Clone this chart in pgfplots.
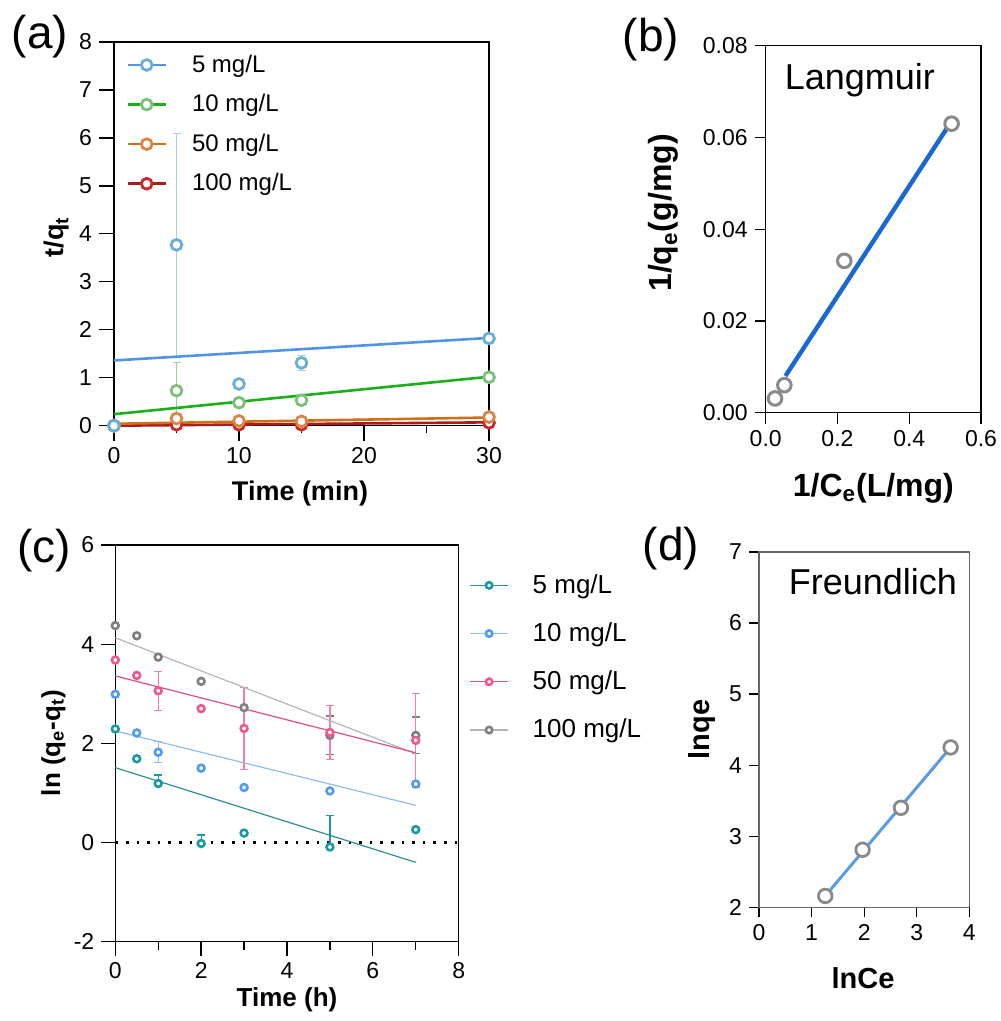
\documentclass[border=0pt]{standalone}
\usepackage{fontspec}
\setmainfont{Liberation Sans}
\usepackage{pgfplots}
\pgfplotsset{compat=1.18}

\definecolor{aBm}{HTML}{6AAED6}\definecolor{aBl}{HTML}{4F94E6}\definecolor{aBe}{HTML}{A9CFE2}
\definecolor{aGm}{HTML}{7CC07C}\definecolor{aGl}{HTML}{19B019}\definecolor{aGe}{HTML}{9FD09F}
\definecolor{aOm}{HTML}{D98548}\definecolor{aOl}{HTML}{CF6F18}
\definecolor{aRm}{HTML}{C62A2A}\definecolor{aRl}{HTML}{A81C1C}
\definecolor{bfit}{HTML}{1A68D2}\definecolor{ptgray}{HTML}{8A8A8A}
\definecolor{dfit}{HTML}{5A9BE6}
\definecolor{cTm}{HTML}{1A9AA0}\definecolor{cTl}{HTML}{2F8F8F}
\definecolor{cBm}{HTML}{4F9BF0}\definecolor{cBl}{HTML}{8FBDF0}
\definecolor{cPm}{HTML}{F0588A}\definecolor{cPl}{HTML}{E0507F}\definecolor{cPe}{HTML}{F080A8}
\definecolor{cGm}{HTML}{7F7F7F}\definecolor{cGl}{HTML}{B5B5B5}

\newcommand{\tickfont}{\fontsize{11.5}{13.8}\selectfont}
\newcommand{\labfont}{\fontsize{13.5}{16}\selectfont\bfseries}

\pgfplotsset{
  panel/.style={
    scale only axis, clip=false,
    axis line style={line width=0.65pt},
    every tick/.style={line width=0.65pt, black},
    tick align=outside,
    xtick pos=lower, ytick pos=lower,
    tick label style={font=\tickfont},
    /pgf/number format/assume math mode=true,
    label style={font=\labfont},
    legend cell align=left,
  },
  legimg/.style={legend image code/.code={%
    \draw[mark repeat=2,mark phase=2,##1] plot coordinates {(0pt,0pt)(9.5pt,0pt)(19pt,0pt)};}},
  % error bars only (markers drawn on top afterwards)
  errs/.style={forget plot, draw=none, mark=none,
    error bars/.cd, y dir=both, y explicit,
    error bar style={draw=#1, line width=0.6pt},
    error mark options={rotate=90, mark size=2pt, draw=#1, line width=0.6pt}},
  errsup/.style={forget plot, draw=none, mark=none,
    error bars/.cd, y dir=plus, y explicit,
    error bar style={draw=#1, line width=0.6pt},
    error mark options={rotate=90, mark size=2pt, draw=#1, line width=0.6pt}},
}

\begin{document}
\begin{tikzpicture}
\useasboundingbox (0,0) rectangle (500pt,510.5pt);

% ---------------- (a) pseudo-second-order
\begin{axis}[panel, at={(57pt,297.65pt)}, anchor=south west,
  width=187.5pt, height=191.85pt,
  xmin=0, xmax=30, ymin=0, ymax=8,
  xtick={0,10,20,30}, minor xtick={5,15,25}, ytick={0,1,...,8},
  major tick length=7.5pt, minor tick length=3.8pt,
  xlabel={Time (min)}, ylabel={t/q\textsubscript{t}},
  xlabel style={at={(axis description cs:0.496,-0.1757)}, anchor=center},
  ylabel style={at={(axis description cs:-0.152,0.492)}, anchor=center},
  legimg,
  legend style={at={(axis description cs:0,1)}, anchor=north west,
    xshift=6pt, yshift=-4.2pt, draw=none, fill=none, inner sep=0pt,
    row sep=5.6pt, column sep=10.5pt, font=\fontsize{12}{14}\selectfont},
]
\addlegendimage{color=aBl, line width=1.3pt, mark=*, mark size=2.7pt, mark options={draw=aBm, fill=white, line width=1.4pt}}
\addlegendentry{5 mg/L}
\addlegendimage{color=aGl, line width=1.3pt, mark=*, mark size=2.7pt, mark options={draw=aGm, fill=white, line width=1.4pt}}
\addlegendentry{10 mg/L}
\addlegendimage{color=aOl, line width=1.3pt, mark=*, mark size=2.7pt, mark options={draw=aOm, fill=white, line width=1.4pt}}
\addlegendentry{50 mg/L}
\addlegendimage{color=aRl, line width=1.3pt, mark=*, mark size=2.7pt, mark options={draw=aRm, fill=white, line width=1.4pt}}
\addlegendentry{100 mg/L}
% error bars
\addplot[errs=aBe] coordinates {(5,3.77) +- (0,2.33) (15,1.31) +- (0,0.16)};
\addplot[errs=aGe] coordinates {(5,0.73) +- (0,0.58)};
% fitted lines
\addplot[forget plot, aRl, line width=1.3pt] coordinates {(0,0.00)(30,0.07)};
\addplot[forget plot, aOl, line width=1.3pt] coordinates {(0,0.04)(30,0.17)};
\addplot[forget plot, aGl, line width=1.3pt] coordinates {(0,0.24)(30,1.02)};
\addplot[forget plot, aBl, line width=1.3pt] coordinates {(0,1.36)(30,1.83)};
% data points
\addplot[forget plot, only marks, mark=*, mark size=2.7pt, mark options={draw=aRm, fill=white, line width=1.4pt}]
  coordinates {(0,0)(5,0.02)(10,0.02)(15,0.02)(30,0.06)};
\addplot[forget plot, only marks, mark=*, mark size=2.7pt, mark options={draw=aOm, fill=white, line width=1.4pt}]
  coordinates {(0,0)(5,0.15)(10,0.10)(15,0.09)(30,0.18)};
\addplot[forget plot, only marks, mark=*, mark size=2.7pt, mark options={draw=aGm, fill=white, line width=1.4pt}]
  coordinates {(0,0)(5,0.73)(10,0.48)(15,0.53)(30,1.01)};
\addplot[forget plot, only marks, mark=*, mark size=2.7pt, mark options={draw=aBm, fill=white, line width=1.4pt}]
  coordinates {(0,0)(5,3.77)(10,0.87)(15,1.31)(30,1.82)};
\end{axis}

% ---------------- (b) Langmuir
\begin{axis}[panel, at={(382.85pt,304.15pt)}, anchor=south west,
  width=107.65pt, height=183.5pt,
  xmin=0, xmax=0.6, ymin=0, ymax=0.08,
  xtick={0,0.2,0.4,0.6}, ytick={0,0.02,0.04,0.06,0.08},
  scaled x ticks=false, scaled y ticks=false,
  xticklabel style={/pgf/number format/.cd, fixed, fixed zerofill, precision=1},
  yticklabel style={/pgf/number format/.cd, fixed, fixed zerofill, precision=2},
  major tick length=5.5pt,
  label style={font=\fontsize{16}{19}\selectfont\bfseries},
  xlabel={1/C\textsubscript{e}(L/mg)}, ylabel={1/q\textsubscript{e}(g/mg)},
  xlabel style={at={(axis description cs:0.5,-0.2055)}, anchor=center},
  ylabel style={at={(axis description cs:-0.474,0.544)}, anchor=center},
]
\addplot[bfit, line width=2.2pt] coordinates {(0.055,0.0080)(0.505,0.0620)};
\addplot[only marks, mark=*, mark size=3.4pt, mark options={draw=ptgray, fill=white, line width=1.5pt}]
  coordinates {(0.026,0.0031)(0.052,0.0060)(0.219,0.0331)(0.518,0.0630)};
\node[font=\fontsize{18}{21}\selectfont] at (axis description cs:0.4375,0.9065) {Langmuir};
\end{axis}

% ---------------- (c) pseudo-first-order
\begin{axis}[panel, at={(57.65pt,39.65pt)}, anchor=south west,
  width=171.7pt, height=198.35pt,
  xmin=0, xmax=8, ymin=-2, ymax=6,
  xtick={0,2,4,6,8}, minor xtick={1,3,5,7}, ytick={-2,0,2,4,6},
  major tick length=7pt, minor tick length=4pt,
  label style={font=\fontsize{13}{16}\selectfont\bfseries},
  xlabel={Time (h)}, ylabel={ln (q\textsubscript{e}-q\textsubscript{t})},
  xlabel style={at={(axis description cs:0.5,-0.147)}, anchor=center},
  ylabel style={at={(axis description cs:-0.1805,0.501)}, anchor=center},
  legimg,
  legend style={at={(axis description cs:1,1)}, anchor=north west,
    xshift=5.2pt, yshift=-12.5pt, draw=none, fill=none, inner sep=0pt,
    row sep=9.2pt, column sep=10pt, font=\fontsize{13}{15.5}\selectfont},
]
\addlegendimage{color=cTl, line width=0.6pt, mark=*, mark size=1.6pt, mark options={draw=cTm, fill=white, line width=1.3pt}}
\addlegendentry{5 mg/L}
\addlegendimage{color=cBl, line width=0.6pt, mark=*, mark size=1.6pt, mark options={draw=cBm, fill=white, line width=1.3pt}}
\addlegendentry{10 mg/L}
\addlegendimage{color=cPl, line width=0.6pt, mark=*, mark size=1.6pt, mark options={draw=cPm, fill=white, line width=1.3pt}}
\addlegendentry{50 mg/L}
\addlegendimage{color=cGl, line width=0.6pt, mark=*, mark size=1.6pt, mark options={draw=cGm, fill=white, line width=1.3pt}}
\addlegendentry{100 mg/L}
% zero line
\addplot[forget plot, black, line width=1.3pt, dash pattern=on 1.3pt off 4pt] coordinates {(0,0)(8,0)};
% error bars
\addplot[errs=cGm] coordinates {(5,2.16) +- (0,0.39) (7,2.16) +- (0,0.37)};
\addplot[errs=cPe] coordinates {(1,3.06) +- (0,0.39) (3,2.30) +- (0,0.82) (5,2.22) +- (0,0.55) (7,2.06) +- (0,0.94)};
\addplot[errs=cBl] coordinates {(1,1.82) +- (0,0.21)};
\addplot[errsup=cTm] coordinates {(1,1.19) +- (0,0.17) (2,-0.02) +- (0,0.17) (5,-0.09) +- (0,0.64)};
% fitted lines
\addplot[forget plot, cGl, line width=0.6pt] coordinates {(0,4.13)(7,1.79)};
\addplot[forget plot, cPl, line width=0.6pt] coordinates {(0,3.36)(7,1.81)};
\addplot[forget plot, cBl, line width=0.6pt] coordinates {(0,2.25)(7,0.75)};
\addplot[forget plot, cTl, line width=0.6pt] coordinates {(0,1.51)(7,-0.40)};
% data points
\addplot[forget plot, only marks, mark=*, mark size=1.7pt, mark options={draw=cGm, fill=white, line width=1.3pt}]
  coordinates {(0,4.375)(0.5,4.17)(1,3.74)(2,3.25)(3,2.72)(5,2.16)(7,2.16)};
\addplot[forget plot, only marks, mark=*, mark size=1.7pt, mark options={draw=cPm, fill=white, line width=1.3pt}]
  coordinates {(0,3.68)(0.5,3.37)(1,3.06)(2,2.70)(3,2.30)(5,2.22)(7,2.06)};
\addplot[forget plot, only marks, mark=*, mark size=1.7pt, mark options={draw=cBm, fill=white, line width=1.3pt}]
  coordinates {(0,2.99)(0.5,2.21)(1,1.82)(2,1.50)(3,1.11)(5,1.04)(7,1.18)};
\addplot[forget plot, only marks, mark=*, mark size=1.7pt, mark options={draw=cTm, fill=white, line width=1.3pt}]
  coordinates {(0,2.29)(0.5,1.69)(1,1.19)(2,-0.02)(3,0.19)(5,-0.09)(7,0.26)};
\end{axis}

% ---------------- (d) Freundlich
\begin{axis}[panel, at={(379.5pt,56.85pt)}, anchor=south west,
  width=105.15pt, height=177.65pt,
  xmin=0, xmax=4, ymin=2, ymax=7,
  xtick={0,1,...,4}, ytick={2,3,...,7},
  major tick length=5pt,
  axis line style={line width=0.65pt, black!60},
  label style={font=\fontsize{14.5}{17}\selectfont\bfseries},
  xlabel={lnCe}, ylabel={lnqe},
  xlabel style={at={(axis description cs:0.4945,-0.199)}, anchor=center},
  ylabel style={at={(axis description cs:-0.273,0.5)}, anchor=center},
]
\addplot[dfit, line width=1.5pt] coordinates {(1.26,2.16)(3.645,4.25)};
\addplot[only marks, mark=*, mark size=3.4pt, mark options={draw=ptgray, fill=white, line width=1.4pt}]
  coordinates {(1.26,2.16)(1.97,2.81)(2.70,3.40)(3.645,4.25)};
\node[font=\fontsize{18}{21}\selectfont] at (axis description cs:0.542,0.9164) {Freundlich};
\end{axis}

% panel letters
\node[font=\fontsize{23}{27}\selectfont] at (20pt,492pt) {(a)};
\node[font=\fontsize{23}{27}\selectfont] at (325.5pt,490.5pt) {(b)};
\node[font=\fontsize{23}{27}\selectfont] at (22pt,235pt) {(c)};
\node[font=\fontsize{23}{27}\selectfont] at (335.5pt,236pt) {(d)};
\end{tikzpicture}
\end{document}
